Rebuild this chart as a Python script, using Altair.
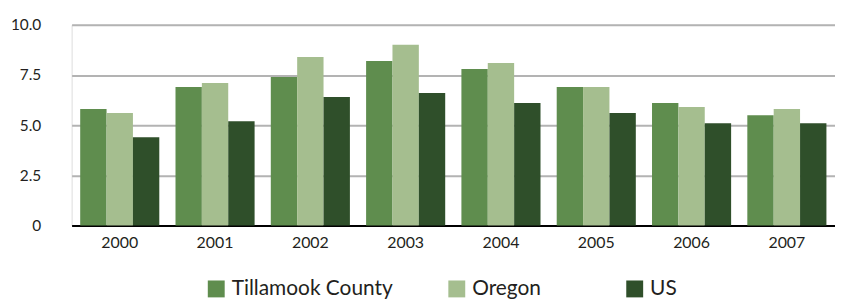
import altair as alt
import pandas as pd

years = ["2000", "2001", "2002", "2003", "2004", "2005", "2006", "2007"]
series = ["Tillamook County", "Oregon", "US"]
tillamook = [5.8, 6.9, 7.4, 8.2, 7.8, 6.9, 6.1, 5.5]
oregon = [5.6, 7.1, 8.4, 9.0, 8.1, 6.9, 5.9, 5.8]
us = [4.4, 5.2, 6.4, 6.6, 6.1, 5.6, 5.1, 5.1]
colors = ["#5f8d4e", "#a5be8f", "#2f4f2a"]

rows = []
for name, vals in zip(series, [tillamook, oregon, us]):
    for y, v in zip(years, vals):
        rows.append({"year": y, "series": name, "value": v})
df = pd.DataFrame(rows)

FONT = "Lato"
TXT = "#231f20"

chart = alt.Chart(df).mark_bar().encode(
    x=alt.X("year:N", title=None, sort=years,
            scale=alt.Scale(paddingInner=0.17, paddingOuter=0.09),
            axis=alt.Axis(labelAngle=0, ticks=False, domainColor="#000000",
                          domainWidth=2, labelFontSize=16, labelPadding=9,
                          labelColor=TXT, labelFont=FONT, grid=False)),
    xOffset=alt.XOffset("series:N", sort=series,
                        scale=alt.Scale(paddingInner=0, paddingOuter=0)),
    y=alt.Y("value:Q", title=None,
            scale=alt.Scale(domain=[0, 10], nice=False),
            axis=alt.Axis(values=[0, 2.5, 5, 7.5, 10], ticks=False, domain=False,
                          labelExpr="datum.value == 0 ? '0' : format(datum.value, '.1f')",
                          labelFontSize=15.5, labelPadding=31, labelColor=TXT,
                          labelFont=FONT, gridColor="#b3b3b3", gridWidth=2)),
    color=alt.Color("series:N", sort=series,
                    scale=alt.Scale(domain=series, range=colors),
                    legend=alt.Legend(title=None, orient="none", direction="horizontal",
                                      legendX=135, legendY=255, symbolType="square",
                                      symbolSize=289, symbolStrokeWidth=0,
                                      symbolOpacity=1, labelFontSize=21,
                                      labelFont=FONT, labelColor=TXT, labelLimit=400,
                                      labelExpr="datum.label == 'Oregon' ? 'Oregon\u2800\u2800' : datum.label",
                                      columnPadding=53, labelOffset=5)),
).properties(
    width=768, height=202,
    autosize=alt.AutoSizeParams(type="none"),
    padding={"left": 64, "top": 16, "right": 0, "bottom": 73},
).configure_view(stroke=None).configure(background="white")

chart.save("out.html", embed_options={"renderer": "svg", "actions": False})
